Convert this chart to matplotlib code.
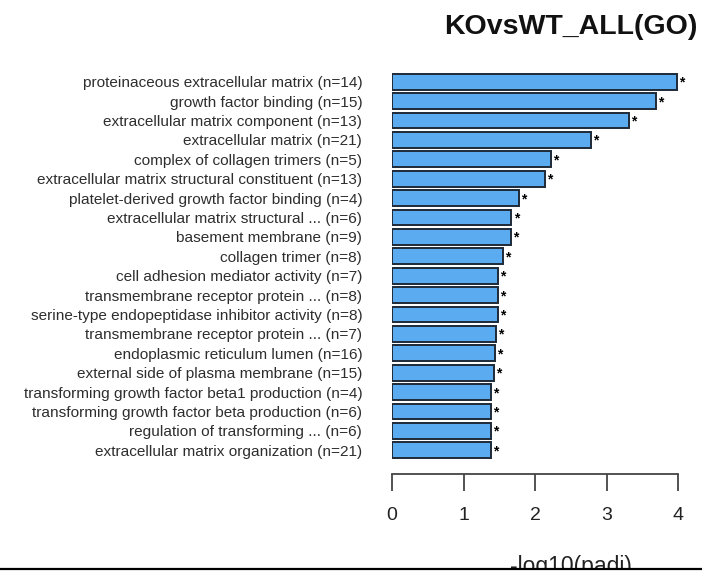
import matplotlib
matplotlib.use("Agg")
import matplotlib.pyplot as plt
from matplotlib.lines import Line2D
from matplotlib.patches import Rectangle

plt.rcParams["font.family"] = ["Liberation Sans", "DejaVu Sans"]

# ── data (top to bottom) ─────────────────────────────────────────────────────
terms = [
    "proteinaceous extracellular matrix (n=14)",
    "growth factor binding (n=15)",
    "extracellular matrix component (n=13)",
    "extracellular matrix (n=21)",
    "complex of collagen trimers (n=5)",
    "extracellular matrix structural constituent (n=13)",
    "platelet-derived growth factor binding (n=4)",
    "extracellular matrix structural ... (n=6)",
    "basement membrane (n=9)",
    "collagen trimer (n=8)",
    "cell adhesion mediator activity (n=7)",
    "transmembrane receptor protein ... (n=8)",
    "serine-type endopeptidase inhibitor activity (n=8)",
    "transmembrane receptor protein ... (n=7)",
    "endoplasmic reticulum lumen (n=16)",
    "external side of plasma membrane (n=15)",
    "transforming growth factor beta1 production (n=4)",
    "transforming growth factor beta production (n=6)",
    "regulation of transforming ... (n=6)",
    "extracellular matrix organization (n=21)",
]
neglog_padj = [3.98, 3.69, 3.31, 2.78, 2.22, 2.14, 1.78, 1.67, 1.66, 1.55,
               1.48, 1.48, 1.48, 1.45, 1.44, 1.42, 1.38, 1.38, 1.38, 1.38]
x_ticks = [0, 1, 2, 3, 4]

BAR_FC = "#5AABEF"
BAR_EC = "#1E2A38"
TXT = "#2E2E2E"

W, H = 702, 575
fig = plt.figure(figsize=(W / 100, H / 100), dpi=100)

# axes placed in pixel terms: x 0 -> 392px, x 4 -> 678px ; rows from 68px to 474px
left, right = 392 / W, 678 / W
top_px, bot_px = 68.1, 474
ax = fig.add_axes([left, 1 - bot_px / H, right - left, (bot_px - top_px) / H])

pos = list(range(len(terms)))
ax.barh(pos, neglog_padj, height=0.82, color=BAR_FC, edgecolor=BAR_EC,
        linewidth=1.4, zorder=2)
for p, v in zip(pos, neglog_padj):
    ax.text(v + 0.03, p + 0.05, "*", ha="left", va="center", fontsize=10,
            fontweight="bold", color="black", clip_on=False)

ax.set_xlim(0, 4)
ax.set_ylim(20.22, -0.7)
ax.set_yticks(pos)
ax.set_yticklabels(terms, fontsize=11.1, color=TXT)
ax.tick_params(axis="y", length=0, pad=21.5)

for s in ["top", "right", "left"]:
    ax.spines[s].set_visible(False)
ax.spines["bottom"].set_color("#444444")
ax.spines["bottom"].set_linewidth(1.3)
ax.set_xticks(x_ticks)
ax.set_xticklabels([str(t) for t in x_ticks], fontsize=14, color="#222222")
ax.tick_params(axis="x", length=12, width=1.3, color="#444444", pad=12)

fig.text(698 / W, 1 - 14 / H, "KOvsWT_ALL(GO)", ha="right", va="top",
         fontsize=20.5, fontweight="bold", color="#111111")

fig.text(571 / W, 1 - 555 / H, "-log10(padj)", ha="center", va="top",
         fontsize=16.5, color="#222222")

# cropped bottom edge of the original picture
fig.patches.append(Rectangle((0, 0), 1, 1 - 569 / H, transform=fig.transFigure,
                             facecolor="white", edgecolor="none", zorder=10))
fig.lines.append(Line2D([0, 1], [1 - 569 / H] * 2, transform=fig.transFigure,
                        color="black", linewidth=1.6, zorder=11))

fig.savefig("out.png", dpi=100)
